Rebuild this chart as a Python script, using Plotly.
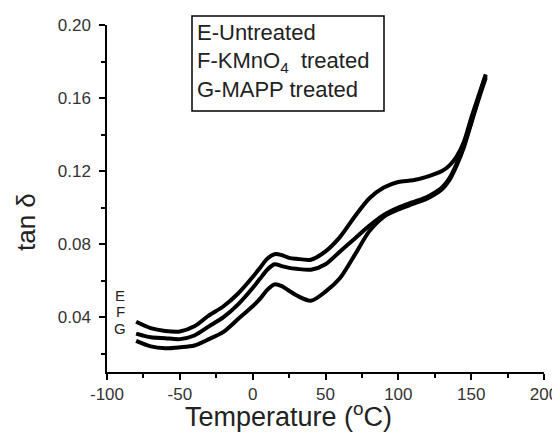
import plotly.graph_objects as go

temps = [-80, -70, -60, -50, -40, -30, -20, -10, 0, 5, 10, 15, 20, 25, 30, 40,
         50, 60, 70, 80, 90, 100, 110, 120, 130, 135, 140, 145, 150, 155, 160]

tan_E = [0.0375, 0.034, 0.0325, 0.0322, 0.035, 0.041, 0.046, 0.053, 0.062, 0.067,
         0.072, 0.0745, 0.074, 0.0725, 0.072, 0.0715, 0.076, 0.084, 0.095, 0.105,
         0.111, 0.114, 0.115, 0.117, 0.120, 0.123, 0.128, 0.136, 0.149, 0.161, 0.173]
tan_F = [0.031, 0.029, 0.0285, 0.028, 0.030, 0.035, 0.040, 0.047, 0.056, 0.061,
         0.066, 0.069, 0.068, 0.067, 0.0665, 0.066, 0.069, 0.076, 0.083, 0.090,
         0.096, 0.100, 0.103, 0.106, 0.111, 0.116, 0.124, 0.134, 0.147, 0.160, 0.172]
tan_G = [0.027, 0.024, 0.023, 0.0235, 0.0245, 0.028, 0.032, 0.039, 0.046, 0.050,
         0.055, 0.058, 0.057, 0.0545, 0.052, 0.049, 0.054, 0.0615, 0.074, 0.087,
         0.095, 0.099, 0.102, 0.105, 0.110, 0.115, 0.123, 0.133, 0.146, 0.159, 0.171]

series_names = ["E-Untreated", "F-KMnO<sub>4</sub>  treated", "G-MAPP treated"]
curve_letters = ["E", "F", "G"]

x_ticks = [-100, -50, 0, 50, 100, 150, 200]
x_tick_labels = ["-100", "-50", "0", "50", "100", "150", "200"]
y_ticks = [0.04, 0.08, 0.12, 0.16, 0.20]
y_tick_labels = ["0.04", "0.08", "0.12", "0.16", "0.20"]

# page body has an 8px margin; plot area in screen px: x 107..544, y 25..372
PX0, PX1, PY0, PY1 = 107, 544, 25, 372
def px_x(sx):
    return (sx - PX0) / (PX1 - PX0)
def px_y(sy):
    return (PY1 - sy) / (PY1 - PY0)

fig = go.Figure()
for ys in (tan_E, tan_F, tan_G):
    fig.add_trace(go.Scatter(x=temps, y=ys, mode="lines",
                             line=dict(color="black", width=4, shape="spline", smoothing=0.8),
                             showlegend=False, hoverinfo="skip"))

tick_font = dict(family="Arial", size=17, color="#333333")
axis_common = dict(showline=True, linecolor="black", linewidth=1.5, ticks="outside",
                   tickcolor="black", ticklen=6, tickwidth=1.5, showgrid=False, zeroline=False,
                   tickfont=tick_font, automargin=False)

fig.update_xaxes(range=[-100, 200], tickvals=x_ticks, ticktext=x_tick_labels, **axis_common,
                 ticklabelstandoff=0,
                 minor=dict(ticks="outside", ticklen=4, tickwidth=1.5, tickcolor="black",
                            dtick=25, tick0=0, showgrid=False))
fig.update_yaxes(range=[0.01, 0.20], tickvals=y_ticks, ticktext=y_tick_labels, **axis_common,
                 ticklabelstandoff=5,
                 minor=dict(ticks="outside", ticklen=4, tickwidth=1.5, tickcolor="black",
                            dtick=0.02, tick0=0, showgrid=False))

# axis titles
fig.add_annotation(text="Temperature (<sup>o</sup>C)", xref="paper", yref="paper",
                   x=px_x(288), y=px_y(434), xanchor="center", yanchor="bottom",
                   showarrow=False, font=dict(family="Arial", size=27, color="#222222"))
fig.add_annotation(text="tan δ", xref="paper", yref="paper", textangle=-90,
                   x=px_x(26), y=px_y(222), xanchor="center", yanchor="middle",
                   showarrow=False, font=dict(family="Arial", size=26, color="#222222"))

# legend box
fig.add_shape(type="rect", xref="paper", yref="paper", x0=px_x(192), x1=px_x(384),
              y0=px_y(111), y1=px_y(16),
              line=dict(color="black", width=1.5), fillcolor="white", layer="above")
legend_px_y = [33, 62, 90]
for name, py in zip(series_names, legend_px_y):
    fig.add_annotation(text=name, xref="paper", yref="paper", x=px_x(195),
                       y=px_y(py), xanchor="left", yanchor="middle", showarrow=False,
                       font=dict(family="Arial", size=22, color="#222222"))

letter_px_y = [295, 311, 328]
for letter, py in zip(curve_letters, letter_px_y):
    fig.add_annotation(text=letter, x=px_x(120), y=px_y(py), xref="paper", yref="paper",
                       showarrow=False, xanchor="center", yanchor="middle",
                       font=dict(family="Arial", size=15, color="#222222"))

W, H = 552, 425
fig.update_layout(width=W, height=H,
                  margin=dict(l=PX0 - 8, r=W - (PX1 - 8), t=PY0 - 8, b=H - (PY1 - 8)),
                  plot_bgcolor="white", paper_bgcolor="white")

fig.write_html("out.html")
